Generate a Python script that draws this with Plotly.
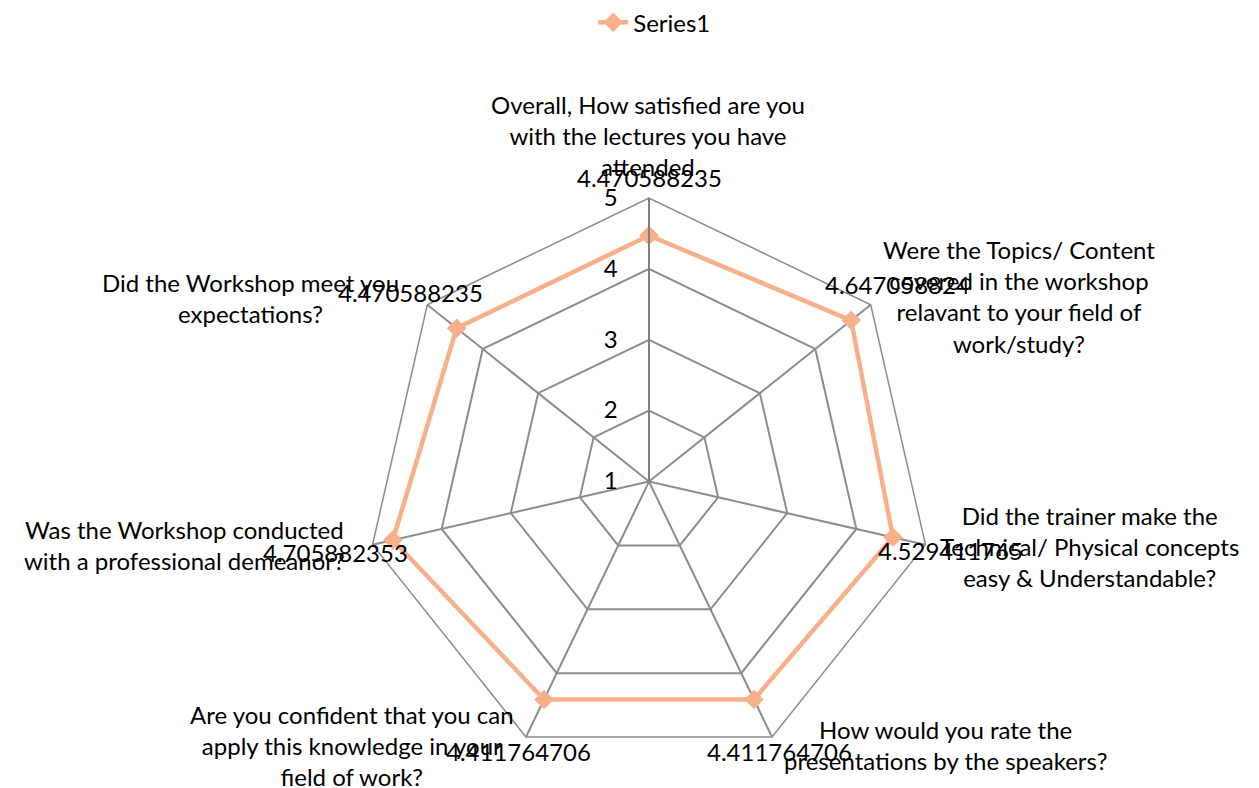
import math
import plotly.graph_objects as go

# Survey questions (radar spokes) and mean scores
categories = [
    "Overall, How satisfied are you with the lectures you have attended",
    "Were the Topics/ Content covered in the workshop relavant to your field of work/study?",
    "Did the trainer make the Technical/ Physical concepts easy & Understandable?",
    "How would you rate the presentations by the speakers?",
    "Are you confident that you can apply this knowledge in your field of work?",
    "Was the Workshop conducted with a professional demeanor?",
    "Did the Workshop meet you expectations?",
]
scores = [4.470588235, 4.647058824, 4.529411765, 4.411764706,
          4.411764706, 4.705882353, 4.470588235]
radial_ticks = [1, 2, 3, 4, 5]

# Wrapped label text and placement around the radar (paper coords)
label_lines = [
    "Overall, How satisfied are you<br>with the lectures you have<br>attended",
    "Were the Topics/ Content<br>covered in the workshop<br>relavant to your field of<br>work/study?",
    "Did the trainer make the<br>Technical/ Physical concepts<br>easy & Understandable?",
    "How would you rate the<br>presentations by the speakers?",
    "Are you confident that you can<br>apply this knowledge in your<br>field of work?",
    "Was the Workshop conducted<br>with a professional demeanor?",
    "Did the Workshop meet you<br>expectations?",
]
label_pos = [(648, 132), (1019, 294), (1089, 545), (945, 745),
             (352, 745), (184, 544), (250, 296)]

W, H = 1259, 788
FONT = "Lato, Open Sans, sans-serif"
FS = 24
LINE_COLOR = "#F7B08A"
GRID = "#8C8C8C"

# radar geometry: centre and outer radius in pixels, radial range
cx, cy, R = 649, 480, 285
RMIN, RMAX = 1, 5
LABEL_GAP = 58  # px between a point and its value label, along the spoke

theta = categories + [categories[0]]
r = scores + [scores[0]]

fig = go.Figure()
fig.add_trace(go.Scatterpolar(
    r=r, theta=theta, mode="lines+markers", name="Series1",
    line=dict(color=LINE_COLOR, width=4.5),
    marker=dict(symbol="diamond", size=15, color=LINE_COLOR),
))

# question labels around the chart
for txt, (x, y) in zip(label_lines, label_pos):
    fig.add_annotation(
        x=x / W, y=1 - y / H, xref="paper", yref="paper",
        text=txt, showarrow=False, align="center",
        xanchor="center", yanchor="middle",
        font=dict(family=FONT, size=FS, color="black"),
    )

# value labels, placed along each spoke just beyond the point
n = len(scores)
for k, v in enumerate(scores):
    ang = 2 * math.pi * k / n
    rho = (v - RMIN) / (RMAX - RMIN) * R + LABEL_GAP
    px = cx + rho * math.sin(ang)
    py = cy - rho * math.cos(ang)
    fig.add_annotation(
        x=px / W, y=1 - py / H, xref="paper", yref="paper",
        text=f"{v:.9f}", showarrow=False,
        xanchor="center", yanchor="middle",
        font=dict(family=FONT, size=FS, color="black"),
    )

fig.update_layout(
    width=W, height=H,
    margin=dict(l=0, r=0, t=0, b=0),
    paper_bgcolor="white", plot_bgcolor="white",
    font=dict(family=FONT, size=FS, color="black"),
    showlegend=True,
    legend=dict(orientation="h", x=0.52, xanchor="center", y=1.005, yanchor="top",
                font=dict(family=FONT, size=FS)),
    polar=dict(
        domain=dict(x=[(cx - R) / W, (cx + R) / W],
                    y=[1 - (cy + R) / H, 1 - (cy - R) / H]),
        bgcolor="white",
        gridshape="linear",
        radialaxis=dict(range=[RMIN, RMAX], tickvals=radial_ticks, angle=90,
                        tickangle=90, showline=True, linecolor="#7F7F7F",
                        linewidth=2, gridcolor=GRID, gridwidth=1.5,
                        ticks="outside", ticklen=22, tickcolor="rgba(0,0,0,0)",
                        tickfont=dict(family=FONT, size=FS),
                        side="counterclockwise"),
        angularaxis=dict(direction="clockwise", rotation=90,
                         showticklabels=False, ticks="",
                         gridcolor=GRID, gridwidth=1.5,
                         linecolor=GRID, linewidth=1.5, showline=True),
    ),
)

fig.write_html("out.html")
